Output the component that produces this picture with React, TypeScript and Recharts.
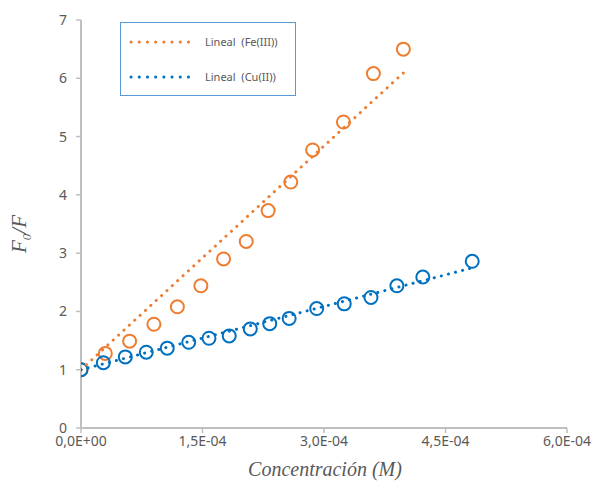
import React from 'react';
import {
  ScatterChart,
  Scatter,
  XAxis,
  YAxis,
  Legend,
} from 'recharts';

// Fe(III) quenching data (concentration in M, F0/F)
const feConc = [0, 3.0e-5, 6.0e-5, 9.0e-5, 1.19e-4, 1.48e-4, 1.76e-4, 2.04e-4, 2.31e-4, 2.59e-4, 2.86e-4, 3.24e-4, 3.61e-4, 3.98e-4];
const feRatio = [1.0, 1.28, 1.49, 1.78, 2.08, 2.44, 2.9, 3.2, 3.73, 4.22, 4.77, 5.25, 6.08, 6.5];

// Cu(II) quenching data
const cuConc = [0, 2.76e-5, 5.47e-5, 8.06e-5, 1.065e-4, 1.33e-4, 1.58e-4, 1.83e-4, 2.09e-4, 2.33e-4, 2.57e-4, 2.91e-4, 3.25e-4, 3.58e-4, 3.9e-4, 4.22e-4, 4.83e-4];
const cuRatio = [1.0, 1.12, 1.22, 1.3, 1.37, 1.47, 1.54, 1.58, 1.7, 1.79, 1.88, 2.05, 2.13, 2.24, 2.44, 2.59, 2.86];

const xTicks = [0, 1.5e-4, 3.0e-4, 4.5e-4, 6.0e-4];
const yTicks = [0, 1, 2, 3, 4, 5, 6, 7];

const ORANGE = '#ED7D31';
const BLUE = '#0070C0';
const AXIS = '#BFBFBF';
const TEXT = '#595959';

const toPoints = (xs: number[], ys: number[]) => xs.map((x, i) => ({ x, y: ys[i] }));

// Stern-Volmer linear fit with intercept fixed at 1 (like the Excel trendline)
const trend = (xs: number[], ys: number[]) => {
  let sxy = 0;
  let sxx = 0;
  xs.forEach((x, i) => {
    sxy += x * (ys[i] - 1);
    sxx += x * x;
  });
  const k = sxy / sxx;
  const lo = Math.min(...xs);
  const hi = Math.max(...xs);
  return [
    { x: lo, y: 1 + k * lo },
    { x: hi, y: 1 + k * hi },
  ];
};

const fmtSci = (v: number) => {
  if (v === 0) return '0,0E+00';
  const exp = Math.floor(Math.log10(Math.abs(v)) + 1e-9);
  const mant = v / Math.pow(10, exp);
  const e = Math.abs(exp).toString().padStart(2, '0');
  return `${mant.toFixed(1).replace('.', ',')}E${exp < 0 ? '-' : '+'}${e}`;
};

const ring = (color: string) => (props: any) => (
  <circle cx={props.cx} cy={props.cy} r={6.5} fill="none" stroke={color} strokeWidth={2} />
);

const none = () => <g />;

const dotted = (color: string) => ({
  stroke: color,
  strokeWidth: 3,
  strokeDasharray: '0.1 7.2',
  strokeLinecap: 'round' as const,
});

const legendItems = [
  { label: 'Lineal  (Fe(III))', color: ORANGE },
  { label: 'Lineal  (Cu(II))', color: BLUE },
];

const LegendBox = () => (
  <div
    style={{
      width: 176,
      height: 74,
      border: '1.5px solid #5B9BD5',
      background: '#fff',
      boxSizing: 'border-box',
      paddingTop: 1,
    }}
  >
    {legendItems.map((it) => (
      <div key={it.label} style={{ display: 'flex', alignItems: 'center', height: 35 }}>
        <svg width={70} height={8} style={{ marginLeft: 8 }}>
          <line x1={2} y1={4} x2={67} y2={4} {...dotted(it.color)} strokeDasharray="0.1 8.1" />
        </svg>
        <span
          style={{
            fontFamily: 'Noto Sans',
            fontSize: 11,
            color: TEXT,
            whiteSpace: 'pre',
            marginLeft: 6,
          }}
        >
          {it.label}
        </span>
      </div>
    ))}
  </div>
);

const YTitle = (props: any) => {
  const vb = props.viewBox || { x: 0, y: 20, width: 81, height: 408 };
  const cx = 26;
  const cy = vb.y + vb.height / 2 + 10;
  return (
    <text
      x={cx}
      y={cy}
      transform={`rotate(-90, ${cx}, ${cy})`}
      textAnchor="middle"
      fontFamily="Liberation Serif"
      fontStyle="italic"
      fontSize={21}
      fill={TEXT}
    >
      F<tspan fontSize={13} dy={5}>0</tspan>
      <tspan dy={-5}>/F</tspan>
    </text>
  );
};

const XTitle = (props: any) => {
  const vb = props.viewBox || { x: 81, y: 428, width: 486, height: 53 };
  return (
    <text
      x={vb.x + vb.width / 2 + 1}
      y={476}
      textAnchor="middle"
      fontFamily="Liberation Serif"
      fontStyle="italic"
      fontSize={20}
      fill={TEXT}
    >
      Concentración (M)
    </text>
  );
};

export default function App() {
  const fe = toPoints(feConc, feRatio);
  const cu = toPoints(cuConc, cuRatio);
  const feLine = trend(feConc, feRatio);
  const cuLine = trend(cuConc, cuRatio);

  return (
    <div style={{ position: 'absolute', left: 0, top: 0, background: '#fff' }}>
      <ScatterChart width={592} height={481} margin={{ top: 20, right: 25, bottom: 0, left: 0 }}>
        <XAxis
          type="number"
          dataKey="x"
          domain={[0, 6e-4]}
          ticks={xTicks}
          tickFormatter={fmtSci}
          height={53}
          axisLine={{ stroke: AXIS, strokeWidth: 2 }}
          tickLine={{ stroke: AXIS, strokeWidth: 1.5 }}
          tickSize={5}
          tickMargin={3}
          tick={{ fontFamily: 'Noto Sans', fontSize: 14, fill: TEXT }}
          allowDataOverflow
          label={{ content: XTitle }}
        />
        <YAxis
          type="number"
          dataKey="y"
          domain={[0, 7]}
          ticks={yTicks}
          width={81}
          axisLine={{ stroke: AXIS, strokeWidth: 2 }}
          tickLine={{ stroke: AXIS, strokeWidth: 1.5 }}
          tickSize={5}
          tickMargin={9}
          tick={{ fontFamily: 'Noto Sans', fontSize: 14, fill: TEXT }}
          allowDataOverflow
          label={{ content: YTitle }}
        />
        <Scatter name="Fe(III)" data={fe} shape={ring(ORANGE)} isAnimationActive={false} legendType="none" />
        <Scatter name="Cu(II)" data={cu} shape={ring(BLUE)} isAnimationActive={false} legendType="none" />
        <Scatter
          name="Lineal (Fe(III))"
          data={feLine}
          line={dotted(ORANGE)}
          shape={none}
          isAnimationActive={false}
        />
        <Scatter
          name="Lineal (Cu(II))"
          data={cuLine}
          line={dotted(BLUE)}
          shape={none}
          isAnimationActive={false}
        />
        <Legend
          layout="horizontal"
          verticalAlign="middle"
          align="center"
          content={LegendBox}
          wrapperStyle={{ left: 120, top: 22, width: 176, height: 74 }}
        />
      </ScatterChart>
    </div>
  );
}
